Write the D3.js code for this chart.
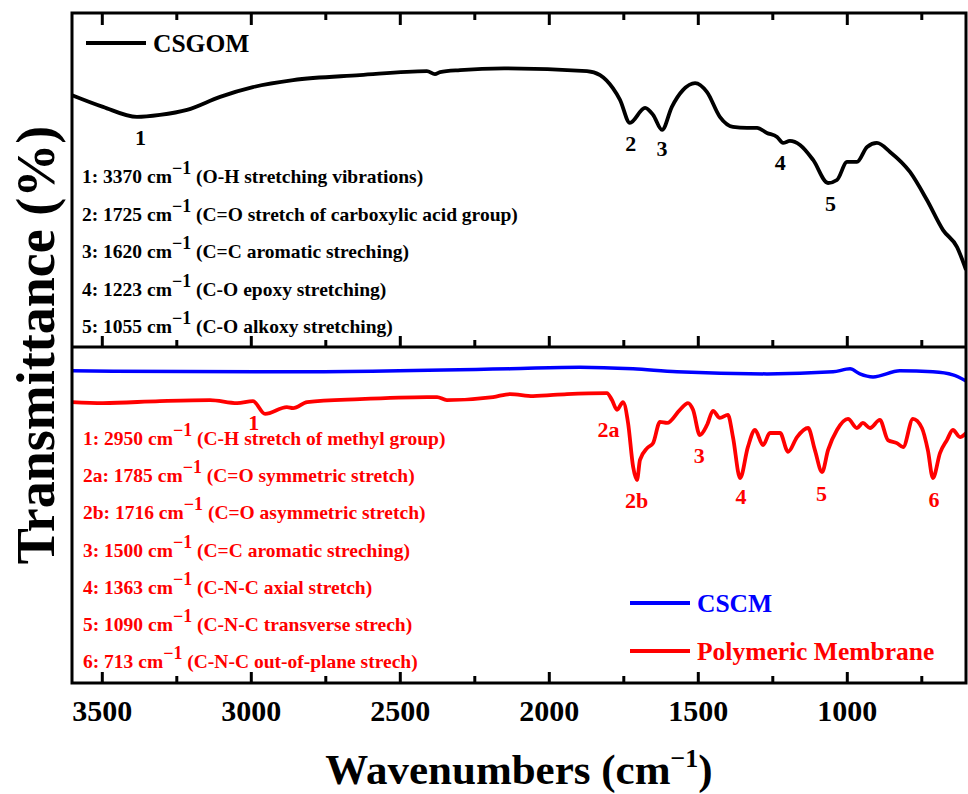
<!DOCTYPE html>
<html>
<head>
<meta charset="utf-8">
<script src="https://cdn.jsdelivr.net/npm/d3@7"></script>
<style>
  body { margin: 0; background: #fff; }
  svg { display: block; font-family: "Liberation Serif", "Times New Roman", serif; font-weight: bold; }
</style>
</head>
<body>
<script>
// CSGOM spectrum (top panel)
var csgomWn = [3600, 3496, 3382, 3305, 3214, 3103, 2993, 2858, 2634, 2409,
    2382, 2365, 2298, 2150, 1872, 1828, 1785, 1761, 1728, 1677,
    1650, 1620, 1587, 1550, 1509, 1469, 1426, 1382, 1335, 1301,
    1268, 1234, 1214, 1191, 1157, 1113, 1063, 1033, 999, 966,
    932, 899, 855, 788, 731, 677, 630, 600];
var csgomT = [75.4, 71.9, 68.9, 69.5, 71.0, 74.9, 77.8, 79.9, 81.4, 82.6,
    81.7, 82.3, 82.9, 83.4, 82.6, 81.4, 77.5, 74.0, 67.1, 71.6,
    69.5, 65.0, 71.9, 76.9, 79.0, 76.3, 68.9, 65.9, 65.6, 65.6,
    64.1, 62.9, 61.1, 61.7, 60.5, 56.0, 49.1, 50.0, 55.4, 55.4,
    59.9, 61.1, 58.4, 52.4, 44.0, 35.0, 29.9, 23.1];

// CSCM spectrum (bottom panel, blue)
var cscmWn = [3600, 2858, 2130, 1895, 1717, 1570, 1268, 1046, 989, 956, 912, 822, 711, 644, 600];
var cscmT = [92.9, 92.6, 93.5, 94.0, 93.5, 92.6, 92.0, 92.6, 93.5, 92.0, 91.1, 92.9, 92.6, 91.7, 89.9];

// Polymeric membrane spectrum (bottom panel, red)
var pmWn = [3600, 3496, 3305, 3137, 3046, 2993, 2952, 2879, 2858, 2811,
    2634, 2409, 2375, 2342, 2187, 2130, 2053, 1939, 1805, 1788,
    1771, 1751, 1734, 1717, 1704, 1694, 1670, 1650, 1627, 1603,
    1560, 1533, 1516, 1493, 1469, 1449, 1426, 1399, 1382, 1358,
    1332, 1308, 1281, 1258, 1224, 1197, 1167, 1130, 1107, 1083,
    1063, 1033, 996, 966, 946, 922, 889, 862, 832, 811,
    778, 748, 728, 711, 687, 664, 644, 620, 600];
var pmT = [83.6, 83.3, 83.9, 84.2, 83.3, 83.9, 80.1, 82.1, 81.8, 83.6,
    84.5, 85.1, 85.1, 84.2, 85.1, 86.0, 85.4, 86.0, 86.3, 84.2,
    81.3, 83.6, 77.4, 64.3, 60.4, 66.4, 69.9, 71.4, 77.7, 77.4,
    81.3, 83.3, 81.3, 73.8, 76.8, 81.0, 78.9, 79.8, 73.2, 61.0,
    70.2, 75.3, 70.8, 74.4, 74.4, 68.8, 73.2, 75.9, 69.3, 62.8,
    69.3, 75.3, 78.6, 75.9, 77.4, 75.9, 78.3, 72.3, 71.4, 70.2,
    78.6, 75.9, 69.3, 61.0, 68.5, 72.3, 75.3, 73.2, 74.4];

// band assignments
var csgomBandNo = ["1", "2", "3", "4", "5"];
var csgomBandWn = [3370, 1725, 1620, 1223, 1055];
var csgomBandDesc = ["(O-H stretching vibrations)", "(C=O stretch of carboxylic acid group)",
    "(C=C aromatic streching)", "(C-O epoxy stretching)", "(C-O alkoxy stretching)"];
var csgomLabelT = [60.5, 58.7, 57.2, 53.0, 40.7];

var pmBandNo = ["1", "2a", "2b", "3", "4", "5", "6"];
var pmBandWn = [2950, 1785, 1716, 1500, 1363, 1090, 713];
var pmBandDesc = ["(C-H stretch of methyl group)", "(C=O symmetric stretch)", "(C=O asymmetric stretch)",
    "(C=C aromatic streching)", "(C-N-C axial stretch)", "(C-N-C transverse strech)",
    "(C-N-C out-of-plane strech)"];
var pmLabelWn = [2990, 1800, 1705, 1495, 1355, 1085, 707];
var pmLabelT = [75.3, 73.2, 52.1, 65.5, 53.3, 54.2, 52.4];

var majorTicks = [3500, 3000, 2500, 2000, 1500, 1000];
var minorTicks = [3250, 2750, 2250, 1750, 1250, 750];

var w = 968, h = 794;
var pLeft = 72, pRight = 966, pTop = 13, pMid = 347, pBottom = 683;
var red = "#ff0000", blue = "#0000ff";

var svg = d3.select("body").append("svg")
    .attr("width", w)
    .attr("height", h);

var xScale = d3.scaleLinear().domain([3600, 600]).range([pLeft, pRight]);
var yTop = d3.scaleLinear().domain([0, 100]).range([pMid, pTop]);
var yBot = d3.scaleLinear().domain([0, 100]).range([pBottom, pMid]);

svg.append("clipPath").attr("id", "clipTop")
    .append("rect").attr("x", pLeft).attr("y", pTop).attr("width", pRight - pLeft).attr("height", pMid - pTop);
svg.append("clipPath").attr("id", "clipBot")
    .append("rect").attr("x", pLeft).attr("y", pMid).attr("width", pRight - pLeft).attr("height", pBottom - pMid);

function drawLine(wn, t, yS, color, width, clip) {
    var line = d3.line()
        .x(function (d, i) { return xScale(wn[i]); })
        .y(function (d) { return yS(d); })
        .curve(d3.curveMonotoneX);
    svg.append("path")
        .datum(t)
        .attr("clip-path", "url(#" + clip + ")")
        .attr("fill", "none")
        .attr("stroke", color)
        .attr("stroke-width", width)
        .attr("stroke-linejoin", "round")
        .attr("d", line);
}

drawLine(csgomWn, csgomT, yTop, "#000", 3.8, "clipTop");
drawLine(cscmWn, cscmT, yBot, blue, 3.5, "clipBot");
drawLine(pmWn, pmT, yBot, red, 3.8, "clipBot");

// axes / ticks
function tickAxis(axis, y, vals, size) {
    var g = svg.append("g")
        .attr("transform", "translate(0," + y + ")")
        .call(axis(xScale).tickValues(vals).tickSize(size).tickFormat(""));
    g.select(".domain").remove();
    g.selectAll("line").attr("stroke", "#000").attr("stroke-width", 3);
    return g;
}
tickAxis(d3.axisTop, pTop, majorTicks, -12);
tickAxis(d3.axisTop, pTop, minorTicks, -7);
tickAxis(d3.axisBottom, pMid, majorTicks, -11);
tickAxis(d3.axisBottom, pMid, minorTicks, -7);
tickAxis(d3.axisBottom, pBottom, minorTicks, -7);

var xAxis = svg.append("g")
    .attr("transform", "translate(0," + pBottom + ")")
    .call(d3.axisBottom(xScale).tickValues(majorTicks).tickSize(-11).tickFormat(d3.format("d")));
xAxis.select(".domain").remove();
xAxis.selectAll("line").attr("stroke", "#000").attr("stroke-width", 3);
xAxis.selectAll("text")
    .attr("y", 38)
    .attr("dy", null)
    .attr("fill", "#000")
    .style("font-family", "'Liberation Serif', serif")
    .style("font-weight", "bold")
    .style("font-size", "30px");

// frame
svg.append("rect")
    .attr("x", pLeft).attr("y", pTop)
    .attr("width", pRight - pLeft).attr("height", pBottom - pTop)
    .attr("fill", "none").attr("stroke", "#000").attr("stroke-width", 3);
svg.append("line")
    .attr("x1", pLeft).attr("x2", pRight).attr("y1", pMid).attr("y2", pMid)
    .attr("stroke", "#000").attr("stroke-width", 3);

// peak labels
svg.selectAll(".topPeak")
    .data(csgomBandNo)
    .enter()
    .append("text")
    .attr("class", "topPeak")
    .attr("x", function (d, i) { return xScale(csgomBandWn[i]); })
    .attr("y", function (d, i) { return yTop(csgomLabelT[i]); })
    .attr("text-anchor", "middle")
    .attr("font-size", "22px")
    .attr("fill", "#000")
    .text(function (d) { return d; });

svg.selectAll(".botPeak")
    .data(pmBandNo)
    .enter()
    .append("text")
    .attr("class", "botPeak")
    .attr("x", function (d, i) { return xScale(pmLabelWn[i]); })
    .attr("y", function (d, i) { return yBot(pmLabelT[i]); })
    .attr("text-anchor", "middle")
    .attr("font-size", "22px")
    .attr("fill", red)
    .text(function (d) { return d; });

// band assignment lists
function bandList(nos, wns, descs, x0, y0, step, color) {
    nos.forEach(function (n, i) {
        var t = svg.append("text")
            .attr("x", x0)
            .attr("y", y0 + i * step)
            .attr("fill", color)
            .attr("font-size", "19.5px");
        t.append("tspan").text(n + ": " + wns[i] + " cm");
        t.append("tspan").attr("dy", -9).attr("font-size", "18px").text("\u22121");
        t.append("tspan").attr("dy", 9).text(" " + descs[i]);
    });
}
bandList(csgomBandNo, csgomBandWn, csgomBandDesc, 82, 183, 37.5, "#000");
bandList(pmBandNo, pmBandWn, pmBandDesc, 83, 445, 37.2, red);

// legends
function legendItem(x, y, color, label) {
    svg.append("line")
        .attr("x1", x).attr("x2", x + 60).attr("y1", y).attr("y2", y)
        .attr("stroke", color).attr("stroke-width", 3.8);
    svg.append("text")
        .attr("x", x + 67).attr("y", y + 9)
        .attr("fill", color)
        .attr("font-size", "25.5px")
        .text(label);
}
legendItem(86, 43, "#000", "CSGOM");
legendItem(630, 603, blue, "CSCM");
legendItem(630, 651, red, "Polymeric Membrane");

// axis titles
var xt = svg.append("text")
    .attr("x", (pLeft + pRight) / 2)
    .attr("y", 784)
    .attr("text-anchor", "middle")
    .attr("font-size", "43px")
    .attr("fill", "#000");
xt.append("tspan").text("Wavenumbers (cm");
xt.append("tspan").attr("dy", -17).attr("font-size", "26px").text("\u22121");
xt.append("tspan").attr("dy", 17).text(")");

svg.append("text")
    .attr("transform", "translate(54,345) rotate(-90)")
    .attr("text-anchor", "middle")
    .attr("font-size", "54px")
    .attr("fill", "#000")
    .text("Transmittance (%)");
</script>
</body>
</html>
